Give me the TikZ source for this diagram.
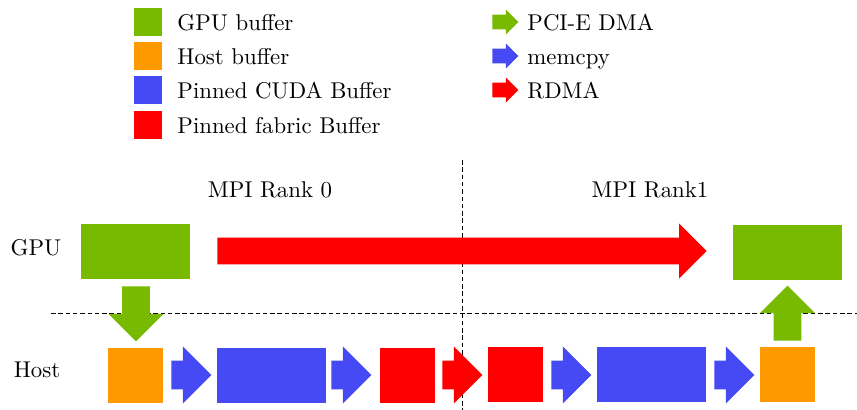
\documentclass[tikz,border=0pt]{standalone}
\usetikzlibrary{shapes.arrows}

\definecolor{gpugreen}{RGB}{120,186,0}
\definecolor{hostorange}{RGB}{255,153,0}
\definecolor{cudablue}{RGB}{70,74,245}
\definecolor{fabricred}{RGB}{255,0,0}

\tikzstyle{buf} = [inner sep=0pt, minimum height=0.847cm]
\tikzstyle{bigbuf} = [buf, minimum width=1.679cm]
\tikzstyle{smallbuf} = [buf, minimum width=0.847cm]
\tikzstyle{move} = [single arrow, inner xsep=0pt, inner ysep=0.216cm, anchor=tail, minimum height=0.616cm, minimum width=0.862cm, single arrow head extend=0.216cm]
\tikzstyle{dma} = [move, fill=gpugreen, inner ysep=0.208cm, minimum height=0.847cm, minimum width=0.832cm, single arrow head extend=0.208cm]
\tikzstyle{key} = [inner sep=0pt, minimum size=0.431cm]
\tikzstyle{keyarrow} = [single arrow, inner xsep=0pt, inner ysep=0.108cm, anchor=tail, minimum height=0.40cm, minimum width=0.37cm, single arrow head extend=0.077cm]
\tikzstyle{lbl} = [anchor=base west, inner sep=0pt]
\tikzstyle{sep} = [dash pattern=on 2pt off 1.2pt]

\begin{document}
\begin{tikzpicture}[x=0.0154cm,y=-0.0154cm]
\useasboundingbox (0,0) rectangle (857,410);

% legend
\node[key, fill=gpugreen] (keygpu) at (148,22) {};
\node[key, fill=hostorange] (keyhost) at (148,56) {};
\node[key, fill=cudablue] (keycuda) at (148,90) {};
\node[key, fill=fabricred] (keyfab) at (148,125) {};
\node[lbl] at (177,30) {GPU buffer};
\node[lbl] at (177,64) {Host buffer};
\node[lbl] at (177,98) {Pinned CUDA Buffer};
\node[lbl] at (177,133) {Pinned fabric Buffer};
\node[keyarrow, fill=gpugreen] (keydma) at (492,22) {};
\node[keyarrow, fill=cudablue] (keycpy) at (492,56) {};
\node[keyarrow, fill=fabricred] (keyrdma) at (492,90) {};
\node[lbl] at (527,30) {PCI-E DMA};
\node[lbl] at (527,64) {memcpy};
\node[lbl] at (527,98) {RDMA};

% ranks
\draw[sep] (462,160) -- (462,410);
\draw[sep] (51,313) -- (857,313);
\node (rank0) at (270,190) {MPI Rank 0};
\node (rank1) at (650,190) {MPI Rank1};
\node (gpulbl) at (36,248) {GPU};
\node (hostlbl) at (37,370) {Host};

% buffers
\node[bigbuf, fill=gpugreen] (gpuA) at (135.5,251.5) {};
\node[bigbuf, fill=gpugreen] (gpuB) at (787.5,252.5) {};
\node[smallbuf, fill=hostorange] (hostA) at (135.5,375.5) {};
\node[bigbuf, fill=cudablue] (cudaA) at (271.5,375.5) {};
\node[smallbuf, fill=fabricred] (fabA) at (407.5,375.5) {};
\node[smallbuf, fill=fabricred] (fabB) at (515.5,374.5) {};
\node[bigbuf, fill=cudablue] (cudaB) at (651.5,374.5) {};
\node[smallbuf, fill=hostorange] (hostB) at (787.5,374.5) {};

% transfers
\node[dma, rotate=-90] (dmaA) at (136,286) {};
\node[move, fill=cudablue] (cpyA) at (171,375) {};
\node[move, fill=cudablue] (cpyB) at (331,375) {};
\node[move, fill=fabricred] (rdmaA) at (442,375) {};
\node[move, fill=cudablue] (cpyC) at (551,375) {};
\node[move, fill=cudablue] (cpyD) at (714,375) {};
\node[dma, rotate=90] (dmaB) at (787.5,341) {};
\node[move, fill=fabricred, inner ysep=0.200cm, minimum height=7.53cm, minimum width=0.832cm] (rdmaB) at (217,251) {};
\end{tikzpicture}
\end{document}
